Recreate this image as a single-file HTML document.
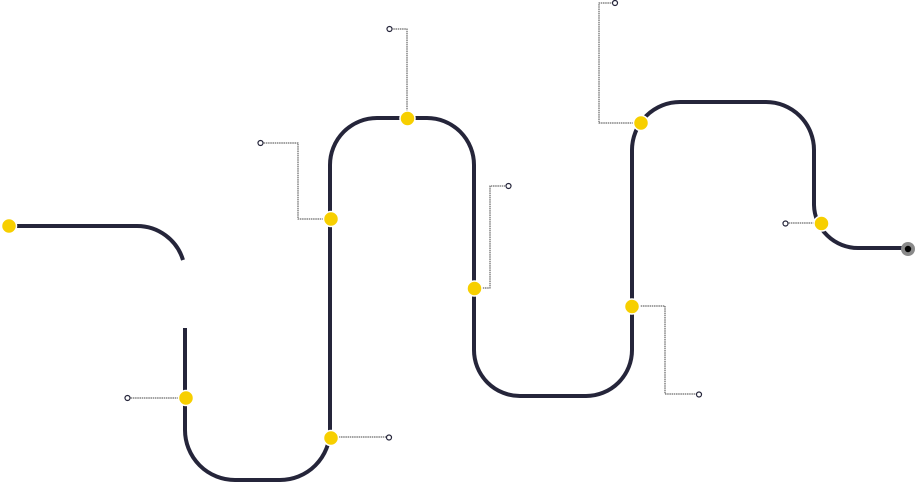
<!DOCTYPE html>
<html><head><style>html,body{margin:0;padding:0;background:#fff;}svg{display:block}</style></head>
<body>
<svg width="917" height="482" viewBox="0 0 917 482" xmlns="http://www.w3.org/2000/svg">
<g fill="none" stroke="#25253a" stroke-width="4" stroke-linecap="butt">
<path d="M9 226 H137 A48 48 0 0 1 183 260"/>
<path d="M185 328 V430 A50 50 0 0 0 235 480 H280 A50 50 0 0 0 330 430 V165 A47 47 0 0 1 377 118 H427 A47 47 0 0 1 474 165 V350 A46 46 0 0 0 520 396 H586 A46 46 0 0 0 632 350 V150 A48 48 0 0 1 680 102 H766 A48 48 0 0 1 814 150 V205 A44 44 0 0 0 858 248 H907"/>
</g>
<g fill="none" stroke="#444" stroke-width="1" stroke-dasharray="1.5 0.7">
<path d="M185 398 H130"/>
<path d="M330 437 H386"/>
<path d="M330 219 H298 V143 H263"/>
<path d="M407 118 V29 H392"/>
<path d="M474 288 H490 V186 H505"/>
<path d="M632 306 H665 V394 H696"/>
<path d="M640 123 H599 V3 H612"/>
<path d="M821 223 H788"/>
</g>
<g fill="#fff" stroke="#25253a" stroke-width="1.2">
<circle cx="127.5" cy="398" r="2.5"/>
<circle cx="389" cy="437.5" r="2.5"/>
<circle cx="260.5" cy="143" r="2.5"/>
<circle cx="389.5" cy="29" r="2.5"/>
<circle cx="508.5" cy="186" r="2.5"/>
<circle cx="699" cy="394.5" r="2.5"/>
<circle cx="615" cy="3" r="2.5"/>
<circle cx="785.5" cy="223.5" r="2.5"/>
</g>
<g fill="#f7cf00" stroke="#fff" stroke-width="1.5">
<circle cx="9" cy="226" r="7.5"/>
<circle cx="186" cy="398" r="7.5"/>
<circle cx="331" cy="438" r="7.5"/>
<circle cx="331" cy="219" r="7.5"/>
<circle cx="407.5" cy="118.5" r="7.5"/>
<circle cx="474.5" cy="288.5" r="7.5"/>
<circle cx="632" cy="306.5" r="7.5"/>
<circle cx="641" cy="123" r="7.5"/>
<circle cx="821.5" cy="223.5" r="7.5"/>
</g>
<circle cx="908" cy="249" r="7" fill="#8a8a8a"/>
<circle cx="908" cy="249" r="3.2" fill="#000"/>
</svg>
</body></html>
